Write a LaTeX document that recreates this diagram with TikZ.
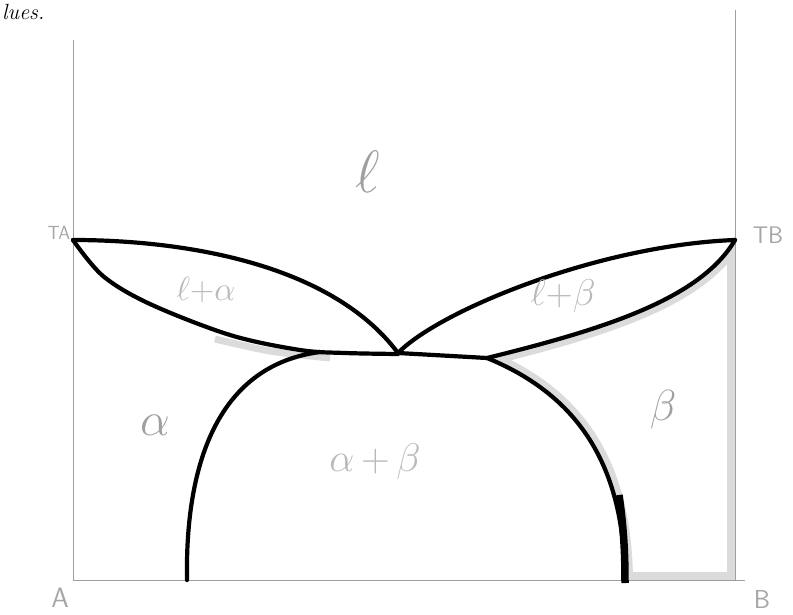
\documentclass[tikz,border=0pt]{standalone}
\newcommand\hlabel[2]{\scalebox{#1}{\Huge$#2$}}
\begin{document}
\begin{tikzpicture}[x=1pt,y=-1pt,
  axisline/.style={draw=gray!75,line width=0.9pt},
  phaseline/.style={draw=black,line width=4.2pt,line cap=round,line join=round},
  stipple/.style={draw=gray!28,line width=16pt},
  biglabel/.style={text=gray!75,inner sep=0pt},
  smalllabel/.style={text=gray!55,inner sep=0pt},
  axislabel/.style={text=gray!70,inner sep=0pt,font=\sffamily}]
\useasboundingbox (0,0) rectangle (793,615);
% key points
\coordinate (TA) at (73,240);
\coordinate (TB) at (735,240);
\coordinate (E) at (398,353);
\coordinate (L) at (320,352);
\coordinate (R) at (487,358);
\coordinate (SL) at (187,580);
\coordinate (SR) at (625,580);
\coordinate (A0) at (73,580);
\coordinate (B0) at (735,580);
% stipple along the beta region edges
\begin{scope}
\clip (R) .. controls (600,330) and (700,300) .. (TB) -- (B0) -- (SR)
  .. controls (624,480) and (590,400) .. (R) -- cycle;
\draw[stipple] (R) .. controls (600,330) and (700,300) .. (TB) -- (B0) -- (SR)
  .. controls (624,480) and (590,400) .. (R) -- cycle;
\end{scope}
% stipple under left solidus
\draw[draw=gray!28,line width=7pt] plot[smooth] coordinates {(215,339) (270,351) (330,358)};
% axes
\draw[axisline] (73,40) -- (A0) -- (745,580);
\draw[axisline] (735,10) -- (B0);
% liquidus and solidus lenses
\draw[phaseline] (TA) .. controls (180,240) and (330,262) .. (E);
\draw[phaseline] plot[smooth,tension=0.55] coordinates {(73,240) (103,276) (150,304) (230,335) (300,350) (345,353) (398,354)};
\draw[phaseline] (E) .. controls (440,310) and (600,245) .. (TB);
\draw[phaseline] (TB) .. controls (700,300) and (600,330) .. (R);
\draw[phaseline] (E) -- (R);
% solvus curves
\draw[phaseline] (L) .. controls (220,365) and (185,460) .. (SL);
\draw[phaseline] (R) .. controls (590,400) and (624,480) .. (SR);
\draw[draw=black,line width=7.5pt] (619,495) .. controls (624,530) and (625,555) .. (625,583);
% labels
\node[biglabel] (lab-l) at (368,172) {\hlabel{2.4}{\ell}};
\node[smalllabel] (lab-la) at (206,290) {\hlabel{1.35}{\ell{+}\alpha}};
\node[smalllabel] (lab-lb) at (563,296) {\hlabel{1.5}{\ell{+}\beta}};
\node[biglabel] (lab-a) at (155,425) {\hlabel{1.9}{\alpha}};
\node[smalllabel] (lab-ab) at (375,462) {\hlabel{1.6}{\alpha{\,+\,}\beta}};
\node[biglabel] (lab-b) at (663,410) {\hlabel{1.75}{\beta}};
\node[axislabel,font=\sffamily\fontsize{19}{19}\selectfont] (lab-TA) at (59,233) {TA};
\node[axislabel,font=\sffamily\fontsize{24}{24}\selectfont] (lab-TB) at (768,235) {TB};
\node[axislabel,font=\sffamily\fontsize{28}{28}\selectfont] (lab-A) at (60,598) {A};
\node[axislabel,font=\sffamily\fontsize{26}{26}\selectfont] (lab-B) at (762,599) {B};
\node[anchor=base west,inner sep=0pt,font=\itshape\fontsize{22}{22}\selectfont] (top) at (2,20) {lues.};
\end{tikzpicture}
\end{document}
